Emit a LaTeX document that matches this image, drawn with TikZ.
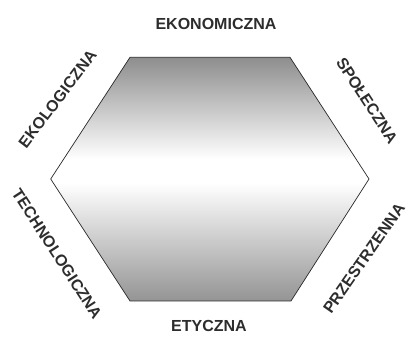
\documentclass[tikz,border=0pt]{standalone}
\usepackage{fontspec}
\setmainfont{Liberation Sans}
\definecolor{hextop}{RGB}{140,140,140}
\definecolor{hexbot}{RGB}{148,148,148}
\definecolor{labelc}{RGB}{45,45,45}
\definecolor{edgec}{RGB}{40,40,40}
\begin{document}
\begin{tikzpicture}[x=1pt,y=1pt,
  lbl/.style={text=labelc,font=\fontsize{16}{19}\selectfont\bfseries,inner sep=0pt}]
\useasboundingbox (0,0) rectangle (408,338);
\coordinate (tl) at (130,280.7);
\coordinate (tr) at (290,280.7);
\coordinate (r)  at (369,159);
\coordinate (br) at (291,37);
\coordinate (bl) at (130,37);
\coordinate (l)  at (50.7,159);
\begin{scope}
\clip (tl) -- (tr) -- (r) -- (br) -- (bl) -- (l) -- cycle;
\fill[white] (40,154) rectangle (380,179);
\foreach \i in {0,...,103} {
  \pgfmathsetmacro{\pa}{100*\i/103}
  \fill[hextop!\pa!white] (40,178+\i) rectangle (380,179.2+\i);
}
\foreach \i in {0,...,118} {
  \pgfmathsetmacro{\pb}{100*\i/118}
  \fill[hexbot!\pb!white] (40,153.8-\i) rectangle (380,155-\i);
}
\end{scope}
\draw[edgec,line width=0.7pt,line join=miter]
  (tl) -- (tr) -- (r) -- (br) -- (bl) -- (l) -- cycle;
\node[lbl] (eko) at (216,314.5) {EKONOMICZNA};
\node[lbl] (ety) at (209,12) {ETYCZNA};
\node[lbl,rotate=53] (ekol) at (57.5,239) {EKOLOGICZNA};
\node[lbl,rotate=-57] (spo) at (367,237.5) {SPOŁECZNA};
\node[lbl,rotate=55] (prz) at (364,79.5) {PRZESTRZENNA};
\node[lbl,rotate=-57] (tech) at (57,84) {TECHNOLOGICZNA};
\end{tikzpicture}
\end{document}
